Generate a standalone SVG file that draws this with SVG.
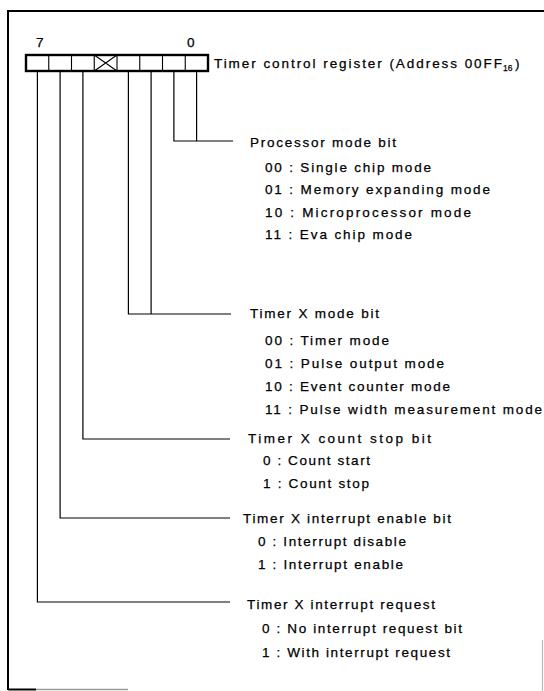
<svg xmlns="http://www.w3.org/2000/svg" width="544" height="691" viewBox="0 0 544 691">
<style>
text{font-family:"Liberation Sans",Arial,sans-serif;font-size:13.5px;fill:#000;stroke:#000;stroke-width:0.25}
.lead{fill:none;stroke:#000;stroke-width:1.2}
.cell{fill:none;stroke:#000;stroke-width:1.1}
.box{fill:#fff;stroke:#000;stroke-width:2.4}
.frame{fill:none;stroke:#000;stroke-width:2}
</style>
<rect width="544" height="691" fill="#fff"/>
<g id="frame">
<path class="frame" d="M8,690 V11 H544"/>
<path d="M8,689.5 H36" stroke="#000" stroke-width="2"/>
<path d="M36,689.5 H128" stroke="#999" stroke-width="1.5"/>
<path d="M542.5,640 V691" stroke="#bbb" stroke-width="1.2"/>
</g>
<g id="register">
<text x="36" y="47">7</text>
<text x="187" y="47">0</text>
<rect class="box" x="26" y="55" width="182" height="16"/>
<path class="cell" d="M48.75,55V71M71.5,55V71M94.25,55V71M117,55V71M139.75,55V71M162.5,55V71M185.25,55V71"/>
<path class="cell" d="M94.25,55L117,71M117,55L94.25,71"/>
<text x="214" y="67.5" textLength="288" lengthAdjust="spacing">Timer control register (Address 00FF</text>
<text x="503" y="71" style="font-size:8.5px">16</text>
<text x="515" y="67.5">)</text>
</g>
<g id="connectors">
<path class="lead" d="M173.9,71V141H233M196.6,71V141"/>
<path class="lead" d="M128.4,71V314H231M151.1,71V314"/>
<path class="lead" d="M82.9,71V439H230"/>
<path class="lead" d="M60.1,71V518H230"/>
<path class="lead" d="M37.4,71V602H230"/>
</g>
<g id="processor-mode">
<text x="250" y="147" textLength="146" lengthAdjust="spacing">Processor mode bit</text>
<text x="265" y="171.5" textLength="166" lengthAdjust="spacing">00 : Single chip mode</text>
<text x="265" y="194" textLength="225" lengthAdjust="spacing">01 : Memory expanding mode</text>
<text x="265" y="216.5" textLength="206" lengthAdjust="spacing">10 : Microprocessor mode</text>
<text x="265" y="239" textLength="147" lengthAdjust="spacing">11 : Eva chip mode</text>
</g>
<g id="timer-x-mode">
<text x="250" y="318" textLength="129" lengthAdjust="spacing">Timer X mode bit</text>
<text x="265" y="345" textLength="124" lengthAdjust="spacing">00 : Timer mode</text>
<text x="265" y="368" textLength="179" lengthAdjust="spacing">01 : Pulse output mode</text>
<text x="265" y="391" textLength="185" lengthAdjust="spacing">10 : Event counter mode</text>
<text x="265" y="414" textLength="277" lengthAdjust="spacing">11 : Pulse width measurement mode</text>
</g>
<g id="count-stop">
<text x="248" y="443" textLength="183" lengthAdjust="spacing">Timer X count stop bit</text>
<text x="263" y="465" textLength="107" lengthAdjust="spacing">0 : Count start</text>
<text x="263" y="488" textLength="106" lengthAdjust="spacing">1 : Count stop</text>
</g>
<g id="interrupt-enable">
<text x="243" y="522.5" textLength="208" lengthAdjust="spacing">Timer X interrupt enable bit</text>
<text x="258" y="546" textLength="148" lengthAdjust="spacing">0 : Interrupt disable</text>
<text x="258" y="569" textLength="145" lengthAdjust="spacing">1 : Interrupt enable</text>
</g>
<g id="interrupt-request">
<text x="247" y="608.5" textLength="188" lengthAdjust="spacing">Timer X interrupt request</text>
<text x="262" y="633" textLength="200" lengthAdjust="spacing">0 : No interrupt request bit</text>
<text x="262" y="656.5" textLength="188" lengthAdjust="spacing">1 : With interrupt request</text>
</g>
</svg>
